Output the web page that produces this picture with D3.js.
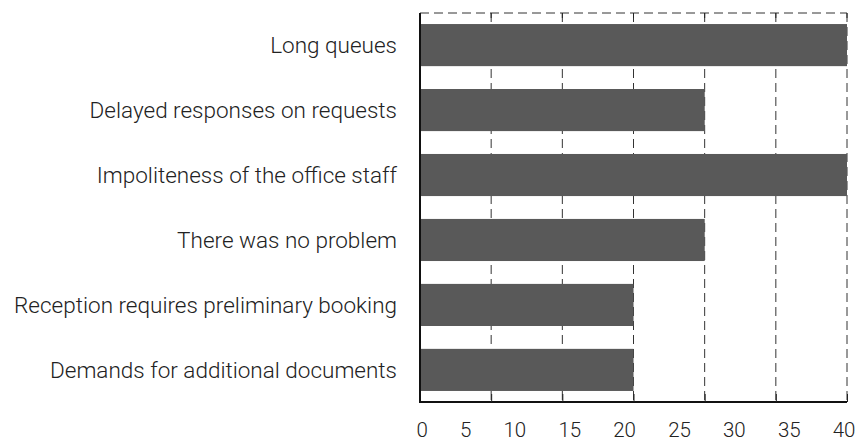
<!DOCTYPE html>
<html><head><meta charset="utf-8">
<script src="https://cdn.jsdelivr.net/npm/d3@7"></script>
<style>body{margin:0;background:#fff}text{font-family:Roboto,"Noto Sans",sans-serif;fill:#222;font-weight:300}</style>
</head><body><svg id="c" width="859" height="441"></svg>
<script>
const categories = ["Long queues","Delayed responses on requests","Impoliteness of the office staff","There was no problem","Reception requires preliminary booking","Demands for additional documents"];
const values = [40, 26.67, 40, 26.67, 20, 20];
const tickLabels = ["0","5","10","15","20","25","30","35","40"];
const gridTicks = [0, 6.667, 13.333, 20, 26.667, 33.333, 40];

const svg = d3.select("#c");
const L = 420, R = 847, T = 13, B = 402;
const x = d3.scaleLinear().domain([0, 40]).range([L, R]);
const y = d3.scaleBand().domain(categories).range([T, B]).paddingInner(0.352).paddingOuter(0.17);

svg.append("g").selectAll("line").data(gridTicks.slice(1)).join("line")
  .attr("x1", d => x(d)).attr("x2", d => x(d)).attr("y1", T).attr("y2", B)
  .attr("stroke", "#333").attr("stroke-width", 1).attr("stroke-dasharray", "9,5");
svg.append("line").attr("x1", L).attr("x2", R).attr("y1", T).attr("y2", T)
  .attr("stroke", "#333").attr("stroke-dasharray", "9,5");

svg.append("g").selectAll("rect").data(values).join("rect")
  .attr("x", x(0)).attr("y", (d, i) => y(categories[i]))
  .attr("width", d => x(d) - x(0)).attr("height", y.bandwidth())
  .attr("fill", "#595959");

svg.append("g").selectAll("line").data(gridTicks).join("line")
  .attr("x1", d => x(d)).attr("x2", d => x(d)).attr("y1", T).attr("y2", T + 5)
  .attr("stroke", "#222");
const ax = svg.append("g").attr("transform", `translate(0,${B})`)
  .call(d3.axisBottom(x).tickValues(gridTicks).tickSize(-8).tickFormat(""));
ax.select(".domain").attr("stroke", "#111").attr("stroke-width", 2).attr("d", `M${L},0H${R}`);
ax.selectAll(".tick line").attr("stroke", "#222");
svg.append("line").attr("x1", L).attr("x2", L).attr("y1", T).attr("y2", B + 1)
  .attr("stroke", "#111").attr("stroke-width", 2);

svg.append("g").selectAll("text").data(categories).join("text")
  .attr("x", 397).attr("y", d => y(d) + y.bandwidth() / 2)
  .attr("dy", "0.35em").attr("text-anchor", "end")
  .attr("font-size", 22.5).text(d => d);

const tl = svg.append("g").selectAll("text").data(tickLabels).join("text")
  .attr("y", 437).attr("font-size", 20.5).text(d => d);
const widths = tl.nodes().map(n => n.getComputedTextLength());
const x0 = 416.5, x1 = 855.5;
const gap = (x1 - x0 - d3.sum(widths)) / (tickLabels.length - 1);
let cx = x0;
tl.each(function (d, i) { d3.select(this).attr("x", cx); cx += widths[i] + gap; });
</script></body></html>
